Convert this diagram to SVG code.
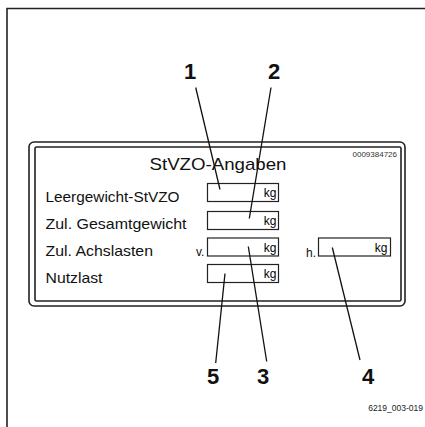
<svg xmlns="http://www.w3.org/2000/svg" width="425" height="427" viewBox="0 0 425 427">
<style>
.frame{fill:none;stroke:#222;stroke-width:1.6}
.box{fill:#fff;stroke:#222;stroke-width:1.2}
.lbl{font-family:"Liberation Sans",Arial,sans-serif;font-size:15px;fill:#111}
.sm{font-family:"Liberation Sans",Arial,sans-serif;font-size:12px;fill:#111}
.kg{font-family:"Liberation Sans",Arial,sans-serif;font-size:12px;fill:#000;text-anchor:end}
.num{font-family:"Liberation Sans",Arial,sans-serif;font-size:22px;font-weight:bold;fill:#111;text-anchor:middle}
.lead{stroke:#111;stroke-width:1.3;fill:none}
</style>
<rect width="425" height="427" fill="#fff"/>
<path class="frame" d="M7,427 V8.5 H425"/>
<g id="plate">
<rect class="frame" x="29" y="142" width="376" height="164" rx="5"/>
<rect class="frame" x="35" y="147" width="366" height="154" rx="1.5"/>
<text x="218" y="170" text-anchor="middle" font-family="'Liberation Sans',Arial,sans-serif" font-size="17" textLength="137" lengthAdjust="spacingAndGlyphs" fill="#111">StVZO-Angaben</text>
<text x="397" y="157" text-anchor="end" font-family="'Liberation Sans',Arial,sans-serif" font-size="8" fill="#333">0009384726</text>
</g>
<g id="row1">
<text class="lbl" x="45.5" y="201.5" textLength="134" lengthAdjust="spacingAndGlyphs">Leergewicht-StVZO</text>
<rect class="box" x="207.5" y="183.5" width="71" height="18"/>
<text class="kg" x="276.5" y="197">kg</text>
</g>
<g id="row2">
<text class="lbl" x="45.5" y="228.5" textLength="141" lengthAdjust="spacingAndGlyphs">Zul. Gesamtgewicht</text>
<rect class="box" x="207.5" y="211.5" width="71" height="18"/>
<text class="kg" x="276.5" y="225">kg</text>
</g>
<g id="row3">
<text class="lbl" x="45.5" y="255.5" textLength="107.5" lengthAdjust="spacingAndGlyphs">Zul. Achslasten</text>
<text class="sm" x="196" y="256">v.</text>
<rect class="box" x="207.5" y="238" width="71" height="18"/>
<text class="kg" x="276.5" y="251.5">kg</text>
</g>
<g id="row3h">
<text class="sm" x="306" y="257">h.</text>
<rect class="box" x="318.5" y="238" width="72" height="18"/>
<text class="kg" x="387.5" y="251.5">kg</text>
</g>
<g id="row4">
<text class="lbl" x="45.5" y="282.5" textLength="57" lengthAdjust="spacingAndGlyphs">Nutzlast</text>
<rect class="box" x="207.5" y="264.5" width="71" height="18"/>
<text class="kg" x="276.5" y="278">kg</text>
</g>
<g id="connectors">
<line class="lead" x1="195.7" y1="87.5" x2="220" y2="189.5"/>
<line class="lead" x1="271" y1="87.5" x2="249.3" y2="218.5"/>
<line class="lead" x1="248.3" y1="246.5" x2="266.7" y2="361.5"/>
<line class="lead" x1="332.3" y1="247.5" x2="360" y2="360"/>
<line class="lead" x1="225" y1="273.5" x2="215.7" y2="363"/>
</g>
<g id="n1"><text class="num" x="190" y="79">1</text></g>
<g id="n2"><text class="num" x="274" y="79">2</text></g>
<g id="n5"><text class="num" x="213" y="384">5</text></g>
<g id="n3"><text class="num" x="263" y="384">3</text></g>
<g id="n4"><text class="num" x="368" y="384">4</text></g>
<text x="423" y="411" text-anchor="end" font-family="'Liberation Sans',Arial,sans-serif" font-size="8.5" fill="#222">6219_003-019</text>
</svg>
